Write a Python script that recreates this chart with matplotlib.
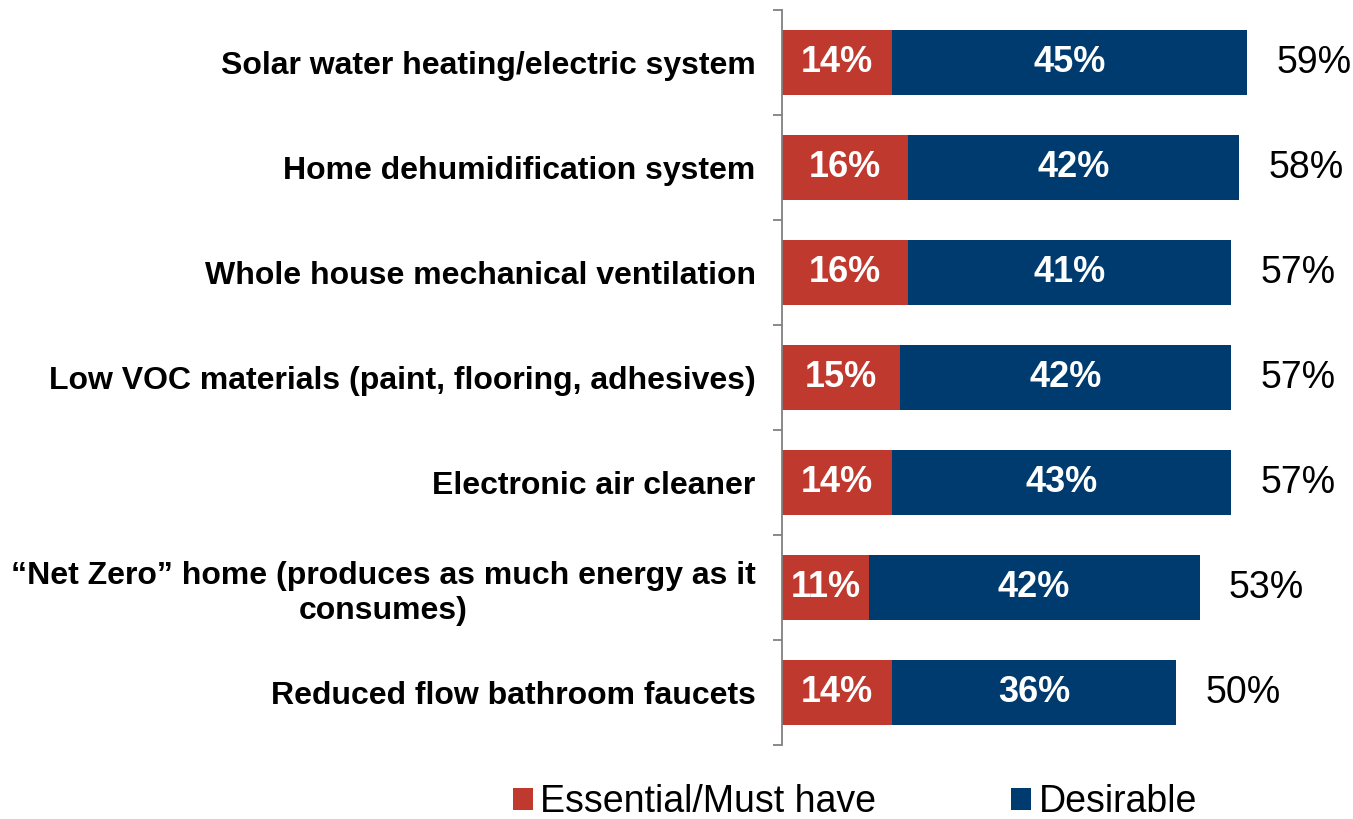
import matplotlib
matplotlib.use("Agg")
import matplotlib.pyplot as plt
from matplotlib.ticker import FixedLocator

plt.rcParams['font.family'] = ['Liberation Sans', 'DejaVu Sans']

categories = [
    "Solar water heating/electric system",
    "Home dehumidification system",
    "Whole house mechanical ventilation",
    "Low VOC materials (paint, flooring, adhesives)",
    "Electronic air cleaner",
    "\u201cNet Zero\u201d home (produces as much energy as it\nconsumes)",
    "Reduced flow bathroom faucets",
]
essential = [14, 16, 16, 15, 14, 11, 14]
desirable = [45, 42, 41, 42, 43, 42, 36]
totals = [59, 58, 57, 57, 57, 53, 50]
series_names = ["Essential/Must have", "Desirable"]

red = "#C0392F"
blue = "#003B70"

fig = plt.figure(figsize=(13.53, 8.19), dpi=100)
W, H = 1353, 819
left_px, right_px, top_px, bottom_px = 782, 1340, 10, 745
ax = fig.add_axes([left_px / W, 1 - bottom_px / H,
                   (right_px - left_px) / W, (bottom_px - top_px) / H])

y = list(range(len(categories)))
b1 = ax.barh(y, essential, height=0.62, color=red, label=series_names[0])
b2 = ax.barh(y, desirable, left=essential, height=0.62, color=blue,
             label=series_names[1])

for i in y:
    ax.text(essential[i] / 2, i, f"{essential[i]}%", ha="center", va="center",
            color="white", fontsize=26, fontweight="bold")
    ax.text(essential[i] + desirable[i] / 2, i, f"{desirable[i]}%",
            ha="center", va="center", color="white", fontsize=26,
            fontweight="bold")
    ax.text(totals[i] + 3.7, i, f"{totals[i]}%", ha="left", va="center",
            color="black", fontsize=27)

ax.set_xlim(0, (right_px - left_px) / 7.88)
ax.set_ylim(len(categories) - 0.5, -0.5)

ax.set_yticks(y)
ax.set_yticklabels(categories, fontsize=23, fontweight="bold",
                   multialignment="center", linespacing=1.2)
ax.yaxis.set_minor_locator(FixedLocator([i - 0.5 for i in range(len(categories) + 1)]))
ax.tick_params(axis="y", which="major", length=0, pad=19)
ax.tick_params(axis="y", which="minor", length=6.5, width=1.3, color="#808080")
ax.set_xticks([])

for s in ["top", "right", "bottom"]:
    ax.spines[s].set_visible(False)
ax.spines["left"].set_color("#808080")
ax.spines["left"].set_linewidth(1.3)

fig.legend(handles=[b1, b2], labels=series_names, loc="center",
           bbox_to_anchor=(855 / W, 1 - 802 / H), ncol=2, frameon=False,
           fontsize=27, handlelength=0.53, handleheight=0.53,
           handletextpad=0.2, columnspacing=3.6, borderpad=0)

fig.savefig("out.png", dpi=100)
